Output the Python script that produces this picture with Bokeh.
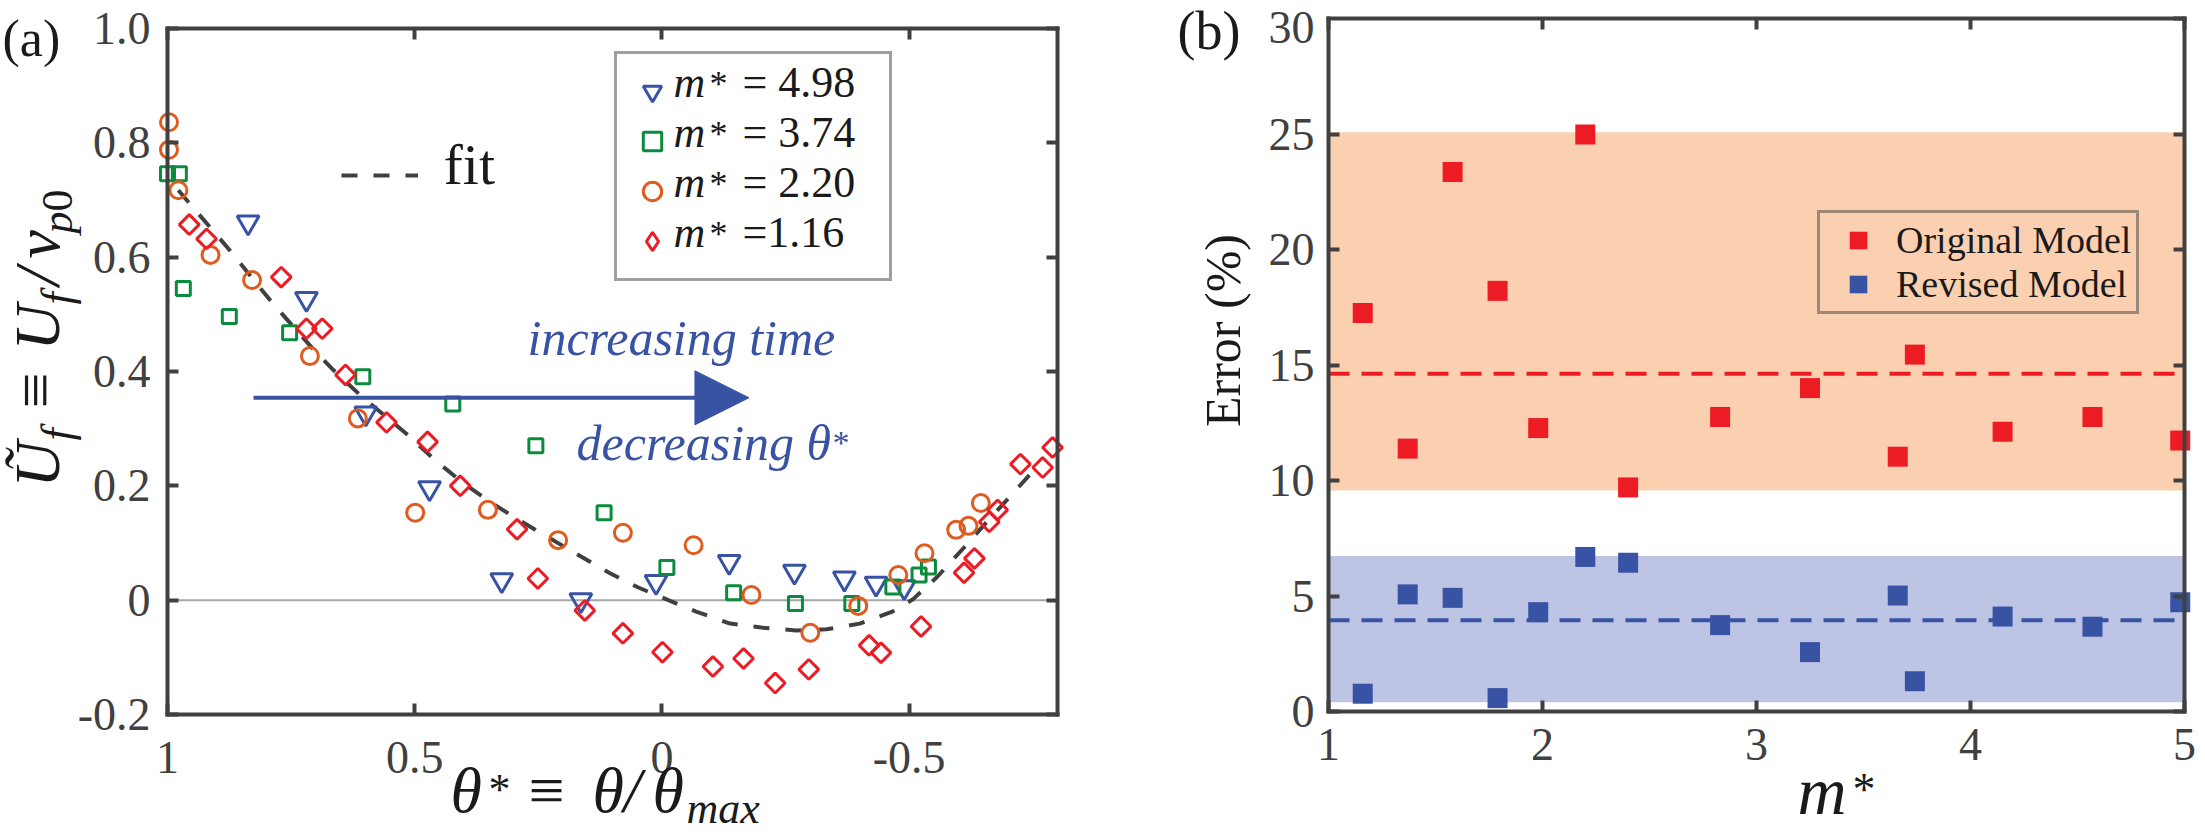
import math
from bokeh.plotting import figure
from bokeh.layouts import row
from bokeh.models import (Range1d, FixedTicker, LinearAxis, BoxAnnotation,
                          Legend, LegendItem, Label, Arrow, NormalHead,
                          CustomJSTickFormatter)
from bokeh.embed import file_html
from bokeh.resources import INLINE

# ---------------- panel (a): front velocity vs. theta* ----------------
theta_m498 = [0.837, 0.719, 0.599, 0.470, 0.324, 0.164, 0.012, -0.136,
              -0.268, -0.369, -0.433, -0.490]
u_m498 = [0.661, 0.527, 0.327, 0.196, 0.035, 0.000, 0.032, 0.067,
          0.050, 0.038, 0.029, 0.023]

theta_m374 = [1.000, 0.976, 0.968, 0.875, 0.753, 0.605, 0.423, 0.255,
              0.117, -0.010, -0.145, -0.270, -0.384, -0.467, -0.520, -0.539]
u_m374 = [0.746, 0.746, 0.545, 0.496, 0.468, 0.391, 0.343, 0.270,
          0.153, 0.057, 0.013, -0.006, -0.006, 0.023, 0.044, 0.058]

theta_m220 = [0.997, 0.997, 0.978, 0.913, 0.829, 0.712, 0.615, 0.499,
              0.352, 0.210, 0.079, -0.064, -0.181, -0.300, -0.397, -0.478,
              -0.531, -0.595, -0.620, -0.645]
u_m220 = [0.836, 0.788, 0.717, 0.604, 0.560, 0.427, 0.318, 0.153,
          0.158, 0.105, 0.118, 0.096, 0.009, -0.057, -0.010, 0.044,
          0.082, 0.123, 0.130, 0.170]

theta_m116 = [0.956, 0.921, 0.770, 0.719, 0.687, 0.640, 0.557, 0.474,
              0.408, 0.293, 0.251, 0.156, 0.079, -0.001, -0.103, -0.165,
              -0.229, -0.297, -0.419, -0.443, -0.524, -0.611, -0.632, -0.662,
              -0.679, -0.725, -0.770, -0.790]
u_m116 = [0.657, 0.632, 0.565, 0.475, 0.475, 0.394, 0.311, 0.277,
          0.200, 0.124, 0.038, -0.018, -0.058, -0.091, -0.116, -0.102,
          -0.145, -0.121, -0.079, -0.092, -0.046, 0.048, 0.073, 0.137,
          0.158, 0.238, 0.232, 0.267]

fit_theta = [0.978, 0.875, 0.788, 0.701, 0.665, 0.607, 0.514, 0.459, 0.405,
             0.348, 0.289, 0.232, 0.175, 0.105, 0.050, -0.013, -0.069, -0.138,
             -0.201, -0.271, -0.333, -0.400, -0.466, -0.507, -0.557, -0.612,
             -0.654, -0.710, -0.758]
fit_u = [0.717, 0.613, 0.520, 0.435, 0.403, 0.356, 0.289, 0.245, 0.207,
         0.172, 0.140, 0.111, 0.082, 0.047, 0.023, 0.000, -0.020, -0.041,
         -0.048, -0.053, -0.051, -0.041, -0.020, 0.001, 0.041, 0.093,
         0.134, 0.187, 0.233]

a_xlim = (1.0, -0.8)          # left, right (theta* decreases to the right)
a_ylim = (-0.2, 1.0)
a_xticks = [1.0, 0.5, 0.0, -0.5]
a_xlabels = ["1", "0.5", "0", "-0.5"]
a_yticks = [-0.2, 0.0, 0.2, 0.4, 0.6, 0.8, 1.0]
a_ylabels = ["-0.2", "0", "0.2", "0.4", "0.6", "0.8", "1.0"]
legend_a_values = ["= 4.98", "= 3.74", "= 2.20", "=1.16"]

# time arrow (theta* goes from 1 towards -1 as time increases)
ARROW_FROM, ARROW_TO, ARROW_U = 0.826, -0.176, 0.354

# ---------------- panel (b): model error vs. m* ----------------
m_star = [1.16, 1.37, 1.58, 1.79, 1.98, 2.20, 2.40, 2.83, 3.25, 3.66,
          3.74, 4.15, 4.57, 4.98]
err_original = [17.25, 11.38, 23.36, 18.21, 12.27, 24.98, 9.70, 12.75,
                14.00, 11.03, 15.45, 12.11, 12.75, 11.73]
err_revised = [0.77, 5.07, 4.92, 0.58, 4.30, 6.69, 6.44, 3.74, 2.57, 5.02,
               1.31, 4.11, 3.67, 4.73]
mean_original, mean_revised = 14.62, 3.95
band_original = (9.57, 25.08)
band_revised = (0.40, 6.73)

b_xlim = (1, 5)
b_ylim = (0, 30)
b_xticks = [1, 2, 3, 4, 5]
b_xlabels = ["1", "2", "3", "4", "5"]
b_yticks = [0, 5, 10, 15, 20, 25, 30]
b_ylabels = ["0", "5", "10", "15", "20", "25", "30"]

# ---------------- style ----------------
SERIF = "Liberation Serif"
C_BLUE = "#3953a4"
C_GREEN = "#0b8b3d"
C_ORANGE = "#df5b1f"
C_RED = "#ed1c24"
C_GREY = "#404040"
C_TEXT = "#1a1a1a"
BAND_ORANGE = "#fbd0b0"
BAND_BLUE = "#bec4e4"

HEIGHT = 838
# axes boxes in page pixels: left, top, right, bottom
A_CANVAS_X, A_WIDTH = 0, 1100
A_BOX = (167, 28, 1057, 714)
B_CANVAS_X, B_WIDTH = 1100, 1105
B_BOX = (1328, 18, 2184, 711)

# offset from a text's vertical middle down to its alphabetic baseline (em)
MID = 0.48


def full_range(lo_val, hi_val, lo_px, hi_px, canvas_lo, canvas_hi):
    """Range whose values lo_val/hi_val land on pixels lo_px/hi_px."""
    per_px = (hi_val - lo_val) / (hi_px - lo_px)
    return Range1d(lo_val - (lo_px - canvas_lo) * per_px,
                   hi_val + (canvas_hi - hi_px) * per_px)


def tick_formatter(tick_values, tick_texts):
    return CustomJSTickFormatter(
        args=dict(tvals=tick_values, ttexts=tick_texts),
        code="""
        for (let i = 0; i < tvals.length; i++) {
            if (Math.abs(tvals[i] - tick) < 1e-9) { return ttexts[i]; }
        }
        return "";
    """)


def style_axis(ax, where, bounds, tick_values, tick_texts, standoff, show):
    ax.fixed_location = where
    ax.bounds = (min(bounds), max(bounds))
    ax.ticker = FixedTicker(ticks=tick_values)
    ax.formatter = tick_formatter(tick_values, tick_texts)
    ax.axis_line_color = C_GREY
    ax.axis_line_width = 4
    ax.axis_line_cap = "square"
    ax.major_tick_line_color = C_GREY
    ax.major_tick_line_width = 4
    ax.major_tick_in = 11
    ax.major_tick_out = 0
    ax.minor_tick_line_color = None
    ax.major_label_text_font = SERIF
    ax.major_label_text_font_size = "46px"
    ax.major_label_standoff = standoff
    ax.major_label_text_color = C_GREY if show else None


def make_axes(p, xlim, ylim, xt, xl, yt, yl, xstand, ystand, ylab_ticks=None):
    p.add_layout(LinearAxis(), "above")
    p.add_layout(LinearAxis(), "right")
    for ax in p.below:
        style_axis(ax, ylim[0], xlim, xt, xl, xstand, True)
    for ax in p.above:
        style_axis(ax, ylim[1], xlim, xt, xl, 0, False)
    for ax in p.left:
        lt = yt if ylab_ticks is None else ylab_ticks
        style_axis(ax, xlim[0], ylim, lt, yl[:len(lt)], ystand, True)
    for ax in p.right:
        style_axis(ax, xlim[1], ylim, yt, yl, 0, False)
    p.grid.visible = False
    p.outline_line_color = None
    p.background_fill_color = "white"
    p.border_fill_color = "white"


def add_text(p, canvas_x, X, Y, text, size, style="normal", color=C_TEXT,
             vertical=False, align="left", on_baseline=True):
    """X, Y: page pixels from the top-left corner.  With on_baseline the point
    is the start of the alphabetic baseline; otherwise the text's middle."""
    if on_baseline:
        if vertical:
            X -= MID * size
        else:
            Y -= MID * size
    p.add_layout(Label(x=X - canvas_x, y=HEIGHT - Y, x_units="screen",
                       y_units="screen", text=text, text_font=SERIF,
                       text_font_size=f"{size}px", text_font_style=style,
                       text_color=color, angle=math.pi / 2 if vertical else 0,
                       text_align=align, text_baseline="middle"))


# ======================= panel (a) =======================
pa = figure(width=A_WIDTH, height=HEIGHT,
            x_range=full_range(a_xlim[0], a_xlim[1], A_BOX[0], A_BOX[2],
                               A_CANVAS_X, A_CANVAS_X + A_WIDTH),
            y_range=full_range(a_ylim[0], a_ylim[1], HEIGHT - A_BOX[3],
                               HEIGHT - A_BOX[1], 0, HEIGHT),
            output_backend="svg", toolbar_location=None, min_border=0)
make_axes(pa, a_xlim, a_ylim, a_xticks, a_xlabels, a_yticks, a_ylabels, 27, 17)

# reference line U = 0
pa.line(x=list(a_xlim), y=[0, 0], line_color="#a6a6a6", line_width=2)

r_fit = pa.line(fit_theta, fit_u, line_color=C_GREY, line_width=4,
                line_dash="16 16")

r_498 = pa.scatter(theta_m498, u_m498, marker="inverted_triangle", size=22,
                   fill_alpha=0, line_color=C_BLUE, line_width=3)
r_374 = pa.scatter(theta_m374, u_m374, marker="square", size=14,
                   fill_alpha=0, line_color=C_GREEN, line_width=3)
r_220 = pa.scatter(theta_m220, u_m220, marker="circle", size=17,
                   fill_alpha=0, line_color=C_ORANGE, line_width=3)
r_116 = pa.scatter(theta_m116, u_m116, marker="square", angle=math.pi / 4,
                   size=14, fill_alpha=0, line_color=C_RED, line_width=3)
# key symbol for the diamond series (no visible point of its own)
r_116_key = pa.scatter(x=[float("nan")], y=[float("nan")], marker="diamond",
                       size=14, fill_alpha=0, line_color=C_RED, line_width=3)

leg_a = Legend(items=[LegendItem(label=" ", renderers=[r]) for r in
                      (r_498, r_374, r_220, r_116_key)],
               location=(614 - A_CANVAS_X, HEIGHT - 281),
               glyph_width=46, glyph_height=50, label_height=50,
               label_width=197, label_standoff=5, spacing=0, padding=12,
               label_text_font_size="10px", label_text_color=None,
               border_line_color=C_GREY, border_line_width=3,
               background_fill_alpha=0)
pa.add_layout(leg_a)

# dashed sample for the fit curve; its caption is a separate label
leg_fit = Legend(items=[LegendItem(label=" ", renderers=[r_fit])],
                 location=(341 - A_CANVAS_X, HEIGHT - 195),
                 glyph_width=77, glyph_height=40, label_height=40,
                 label_standoff=0, padding=0, spacing=0,
                 label_text_font_size="10px", label_text_color=None,
                 border_line_alpha=0, background_fill_alpha=0)
pa.add_layout(leg_fit)
add_text(pa, A_CANVAS_X, 443, 192, "fit", 58)

pa.add_layout(Arrow(end=NormalHead(size=54, fill_color=C_BLUE,
                                   line_color=C_BLUE, line_width=1),
                    x_start=ARROW_FROM, y_start=ARROW_U,
                    x_end=ARROW_TO, y_end=ARROW_U,
                    line_color=C_BLUE, line_width=4))

# legend entry texts: m* = value
for i, val in enumerate(legend_a_values):
    base = 103 + 50 * i
    add_text(pa, A_CANVAS_X, 673, base, "m", 44, "italic")
    add_text(pa, A_CANVAS_X, 709, base - 2, "*", 36)
    add_text(pa, A_CANVAS_X, 742, base, val, 44)

add_text(pa, A_CANVAS_X, 527, 361, "increasing time", 50, "italic", C_BLUE)
add_text(pa, A_CANVAS_X, 576, 466, "decreasing θ", 50, "italic", C_BLUE)
add_text(pa, A_CANVAS_X, 832, 458, "*", 34, "normal", C_BLUE)

add_text(pa, A_CANVAS_X, 2, 63, "(a)", 52)

# x label: theta* = theta / theta_max
add_text(pa, A_CANVAS_X, 450, 821, "θ", 64, "italic")
add_text(pa, A_CANVAS_X, 488, 810, "*", 44)
add_text(pa, A_CANVAS_X, 528, 821, "≡", 64)
add_text(pa, A_CANVAS_X, 592, 821, "θ", 64, "italic")
add_text(pa, A_CANVAS_X, 623, 821, "/", 64, "italic")
add_text(pa, A_CANVAS_X, 652, 821, "θ", 64, "italic")
add_text(pa, A_CANVAS_X, 686, 829, "max", 44, "italic")

# y label (vertical): U~_f = U_f / v_p0
add_text(pa, A_CANVAS_X, 68, 487, "Ũ", 64, "italic", vertical=True)
add_text(pa, A_CANVAS_X, 78, 440, "f", 44, "italic", vertical=True)
add_text(pa, A_CANVAS_X, 66, 408, "≡", 64, vertical=True)
add_text(pa, A_CANVAS_X, 68, 350, "U", 64, "italic", vertical=True)
add_text(pa, A_CANVAS_X, 78, 304, "f", 44, "italic", vertical=True)
add_text(pa, A_CANVAS_X, 68, 285, "/", 64, "italic", vertical=True)
add_text(pa, A_CANVAS_X, 68, 258, "v", 64, "italic", vertical=True)
add_text(pa, A_CANVAS_X, 78, 233, "p", 44, "italic", vertical=True)
add_text(pa, A_CANVAS_X, 78, 211, "0", 44, vertical=True)

# ======================= panel (b) =======================
pb = figure(width=B_WIDTH, height=HEIGHT,
            x_range=full_range(b_xlim[0], b_xlim[1], B_BOX[0], B_BOX[2],
                               B_CANVAS_X, B_CANVAS_X + B_WIDTH),
            y_range=full_range(b_ylim[0], b_ylim[1], HEIGHT - B_BOX[3],
                               HEIGHT - B_BOX[1], 0, HEIGHT),
            output_backend="svg", toolbar_location=None, min_border=0)
# the top label ("30") sits on the page edge and is placed as its own text
make_axes(pb, b_xlim, b_ylim, b_xticks, b_xlabels, b_yticks, b_ylabels, 17, 14,
          ylab_ticks=b_yticks[:-1])
add_text(pb, B_CANVAS_X, B_BOX[0] - 14, 27, b_ylabels[-1], 46, color=C_GREY,
         align="right", on_baseline=False)

pb.add_layout(BoxAnnotation(left=b_xlim[0], right=b_xlim[1],
                            bottom=band_original[0], top=band_original[1],
                            fill_color=BAND_ORANGE, fill_alpha=1,
                            line_alpha=0, level="underlay"))
pb.add_layout(BoxAnnotation(left=b_xlim[0], right=b_xlim[1],
                            bottom=band_revised[0], top=band_revised[1],
                            fill_color=BAND_BLUE, fill_alpha=1,
                            line_alpha=0, level="underlay"))
pb.line(x=list(b_xlim), y=[mean_original] * 2, line_color=C_RED,
        line_width=4, line_dash="21 12")
pb.line(x=list(b_xlim), y=[mean_revised] * 2, line_color=C_BLUE,
        line_width=4, line_dash="21 12")

r_orig = pb.scatter(m_star, err_original, marker="square", size=20,
                    fill_color=C_RED, line_color=None)
r_rev = pb.scatter(m_star, err_revised, marker="square", size=20,
                   fill_color=C_BLUE, line_color=None)

leg_b = Legend(items=[LegendItem(label="Original Model", renderers=[r_orig]),
                      LegendItem(label="Revised Model", renderers=[r_rev])],
               location=(1817 - B_CANVAS_X, HEIGHT - 314),
               glyph_width=66, glyph_height=44, label_height=44,
               label_standoff=5, spacing=0, padding=5,
               label_text_font=SERIF, label_text_font_size="38px",
               label_text_color=C_TEXT, border_line_color=C_GREY,
               border_line_width=3, background_fill_alpha=0)
pb.add_layout(leg_b)

add_text(pb, B_CANVAS_X, 1177, 56, "(b)", 54)
add_text(pb, B_CANVAS_X, 1222, 330, "Error (%)", 50, vertical=True,
         align="center", on_baseline=False)
add_text(pb, B_CANVAS_X, 1797, 823, "m", 68, "italic")
add_text(pb, B_CANVAS_X, 1852, 811, "*", 46)

layout = row(pa, pb, spacing=0)
open("out.html", "w").write(file_html(layout, INLINE))
